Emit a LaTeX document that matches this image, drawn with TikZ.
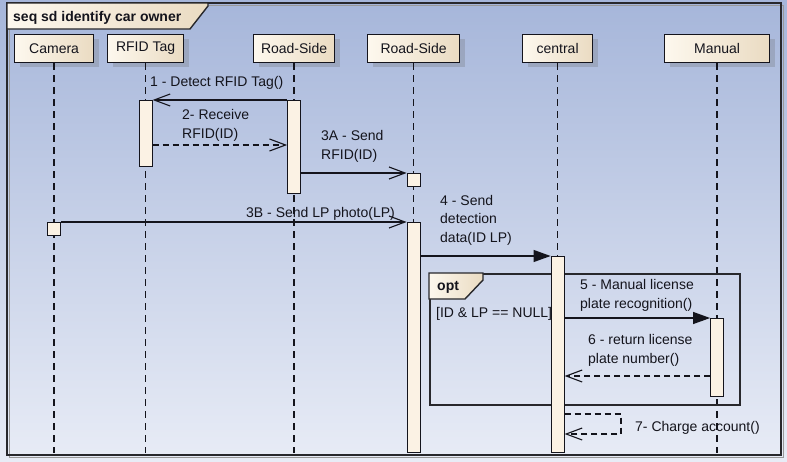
\documentclass[tikz,border=0pt]{standalone}
\usepackage{fontspec}
\setmainfont{Liberation Sans}
\usetikzlibrary{arrows.meta,shadows,calc}
\definecolor{bgtop}{RGB}{166,182,218}
\definecolor{bgbot}{RGB}{232,236,246}
\definecolor{headL}{RGB}{253,248,238}
\definecolor{headR}{RGB}{234,219,194}
\definecolor{actfill}{RGB}{251,242,228}
\definecolor{ink}{RGB}{20,20,28}
\definecolor{framec}{RGB}{40,40,44}
\begin{document}
\begin{tikzpicture}[x=1pt,y=-1pt,
  every node/.style={font=\fontsize{14}{18.5}\selectfont, text=ink},
  head/.style={draw=ink, line width=1.2pt, left color=headL, right color=headR,
    minimum height=28pt, inner sep=0pt, anchor=north west,
    drop shadow={shadow xshift=5pt, shadow yshift=-4pt, opacity=0.25, fill=black!60}},
  act/.style={draw=ink, fill=actfill, line width=1pt, minimum width=13pt, inner sep=0pt, anchor=north},
  lifeline/.style={draw=ink, line width=1.3pt, dash pattern=on 7pt off 5pt},
  msg/.style={draw=ink, line width=1.1pt},
  ret/.style={msg, dash pattern=on 6pt off 4pt},
  open/.style={-{Straight Barb[length=16pt,width=12pt,line width=1.1pt]}},
  filled/.style={-{Triangle[length=17pt,width=12pt]}},
  lbl/.style={anchor=base west, inner sep=0pt},
  tab/.style={draw=framec, line width=1.4pt, left color=headL, right color=headR},
]
% background
\shade[top color=bgtop, bottom color=bgbot] (0,0) rectangle (787,461);
\useasboundingbox (0,0) rectangle (787,461);
% outer frame
\draw[black!40, line width=1.2pt] (9.5,5.5) rectangle (783.5,457.5);
\draw[framec, line width=1.6pt] (7,3) rectangle (781,455);
\path[tab] (7,3) -- (208,3) -- (208,6) -- (190,29) -- (7,29) -- cycle;
\node[lbl, font=\fontsize{14}{18}\selectfont\bfseries] (title) at (13,21) {seq sd identify car owner};

% heads
\node[head, minimum width=79pt] (cam) at (14,34) {Camera};
\node[head, minimum width=76pt] (rfid) at (107,34) {RFID Tag};
\node[head, minimum width=81pt] (rs1) at (253,34) {Road-Side};
\node[head, minimum width=92pt] (rs2) at (367,34) {Road-Side};
\node[head, minimum width=70pt] (cen) at (522,34) {central};
\node[head, minimum width=105pt] (man) at (664,34) {Manual};

% lifeline ends
\coordinate (camE) at (cam.south |- 0,453);
\coordinate (rfidE) at (rfid.south |- 0,453);
\coordinate (rs1E) at (rs1.south |- 0,453);
\coordinate (rs2E) at (rs2.south |- 0,453);
\coordinate (cenE) at (cen.south |- 0,453);
\coordinate (manE) at (man.south |- 0,453);
\draw[lifeline] (cam.south) -- (camE);
\draw[lifeline] (rfid.south) -- (rfidE);
\draw[lifeline] (rs1.south) -- (rs1E);
\draw[lifeline] (rs2.south) -- (rs2E);
\draw[lifeline] (cen.south) -- (cenE);
\draw[lifeline] (man.south) -- (manE);

% opt fragment
\node[draw=framec, line width=1.6pt, minimum width=310pt, minimum height=131pt,
  inner sep=0pt, anchor=north west] (optF) at (429,273) {};
\path[tab] (optF.north west) -- ++(54,0) -- ++(0,7) -- ++(-18,19) -- ($(optF.north west)+(0,26)$) -- cycle;
\node[lbl, font=\fontsize{14}{18}\selectfont\bfseries] (optT) at (437,290) {opt};
\node[lbl] (guard) at (436,317) {[ID \& LP == NULL]};

% activations
\node[act, minimum height=66pt] (rfidA) at (rfid.south |- 0,100) {};
\node[act, minimum height=93pt] (rs1A) at (rs1.south |- 0,100) {};
\node[act, minimum height=13pt] (rs2B) at (rs2.south |- 0,173) {};
\node[act, minimum height=13pt] (camB) at (cam.south |- 0,222) {};
\node[act, minimum height=230pt] (rs2A) at (rs2.south |- 0,222) {};
\node[act, minimum height=196pt] (cenA) at (cen.south |- 0,256) {};
\node[act, minimum height=78pt] (manA) at (man.south |- 0,318) {};

% messages
\draw[msg, open] (rs1A.north west) -- (rfidA.north east);
\node[lbl] (m1) at (150,86) {1 - Detect RFID Tag()};

\draw[ret, open] (rfidA.east |- 0,145) -- (rs1A.west |- 0,145);
\node[lbl, align=left] (m2) at (182,138) {2- Receive\\RFID(ID)};

\draw[msg, open] (rs1A.east |- 0,173) -- (rs2B.north west);
\node[lbl, align=left] (m3a) at (321,159) {3A - Send\\RFID(ID)};

\draw[msg, open] (camB.north east) -- (rs2A.north west);
\node[lbl] (m3b) at (246,217) {3B - Send LP photo(LP)};

\draw[msg, filled] (rs2A.east |- 0,256) -- (cenA.north west);
\node[lbl, align=left] (m4) at (440,242) {4 - Send\\detection\\data(ID LP)};

\draw[msg, filled] (cenA.east |- 0,318) -- (manA.north west);
\node[lbl, align=left] (m5) at (580,308) {5 - Manual license\\plate recognition()};

\draw[ret, open] (manA.west |- 0,376) -- (cenA.east |- 0,376);
\node[lbl, align=left] (m6) at (588,363) {6 - return license\\plate number()};

\coordinate (s7a) at (cenA.east |- 0,414);
\coordinate (s7b) at (621,414);
\coordinate (s7c) at (621,434);
\coordinate (s7d) at (cenA.east |- 0,434);
\draw[ret, open] (s7a) -- (s7b) -- (s7c) -- (s7d);
\node[lbl] (m7) at (635,431) {7- Charge account()};
\end{tikzpicture}
\end{document}
